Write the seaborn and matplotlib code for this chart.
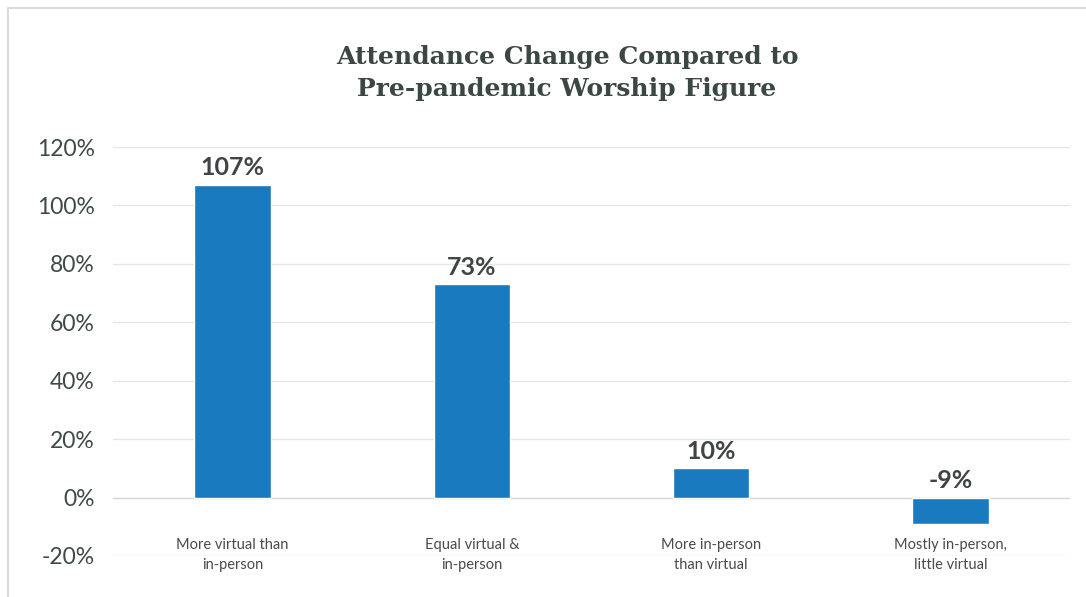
import matplotlib
matplotlib.use("Agg")
import matplotlib.pyplot as plt
import seaborn as sns
import pandas as pd
from matplotlib.patches import Rectangle
from matplotlib.ticker import FuncFormatter

categories = ["More virtual than\nin-person", "Equal virtual &\nin-person",
              "More in-person\nthan virtual", "Mostly in-person,\nlittle virtual"]
values = [107, 73, 10, -9]
yticks = [-20, 0, 20, 40, 60, 80, 100, 120]

sns.set_theme(style="white")
plt.rcParams["font.family"] = ["Lato", "DejaVu Sans"]

df = pd.DataFrame({"category": categories, "change": values})

fig = plt.figure(figsize=(10.86, 5.97), dpi=100)
ax = fig.add_axes([113 / 1086, 1 - 556 / 597, (1070 - 113) / 1086, (556 - 147) / 597])

bar_color = "#1a7abf"
sns.barplot(data=df, x="category", y="change", color=bar_color, width=0.32,
            saturation=1, ax=ax, zorder=3)

ax.set_ylim(-20, 120)
ax.set_xlim(-0.5, len(categories) - 0.5)
ax.set_yticks(yticks)
ax.yaxis.set_major_formatter(FuncFormatter(lambda v, _: f"{v:.0f}%"))
ax.tick_params(axis="y", labelsize=16.5, colors="#3f4a47", length=0, pad=13)
ax.set_xticks([])
ax.set_xlabel("")
ax.set_ylabel("")
ax.grid(axis="y", color="#e6e6e6", linewidth=1, zorder=0)
for s in ax.spines.values():
    s.set_visible(False)
ax.axhline(0, color="#d9d9d9", linewidth=1, zorder=2)

# value labels over each bar (above the baseline for negatives)
for i, v in enumerate(values):
    ax.annotate(f"{v}%", xy=(i, max(v, 0)), xytext=(0, 4), textcoords="offset points",
                ha="center", va="bottom", fontsize=18, fontweight="bold", color="#3f4444")

# category labels at the bottom of the plot
for i, c in enumerate(categories):
    ax.text(i, -19.6, c, ha="center", va="center", fontsize=10.5, color="#4a4a4a",
            linespacing=1.55, zorder=4)

fig.text(0.522, 0.878, "Attendance Change Compared to\nPre-pandemic Worship Figure",
         ha="center", va="center", fontsize=18, fontweight="bold", color="#3b4743",
         family=["DejaVu Serif"], linespacing=1.4)

# light frame around the chart
fig.add_artist(Rectangle((8 / 1086, -0.1), 1.2, 1 - 8 / 597 + 0.1, transform=fig.transFigure,
                         fill=False, edgecolor="#d4d4d4", linewidth=1.2))

fig.savefig("out.png", dpi=100, facecolor="white")
